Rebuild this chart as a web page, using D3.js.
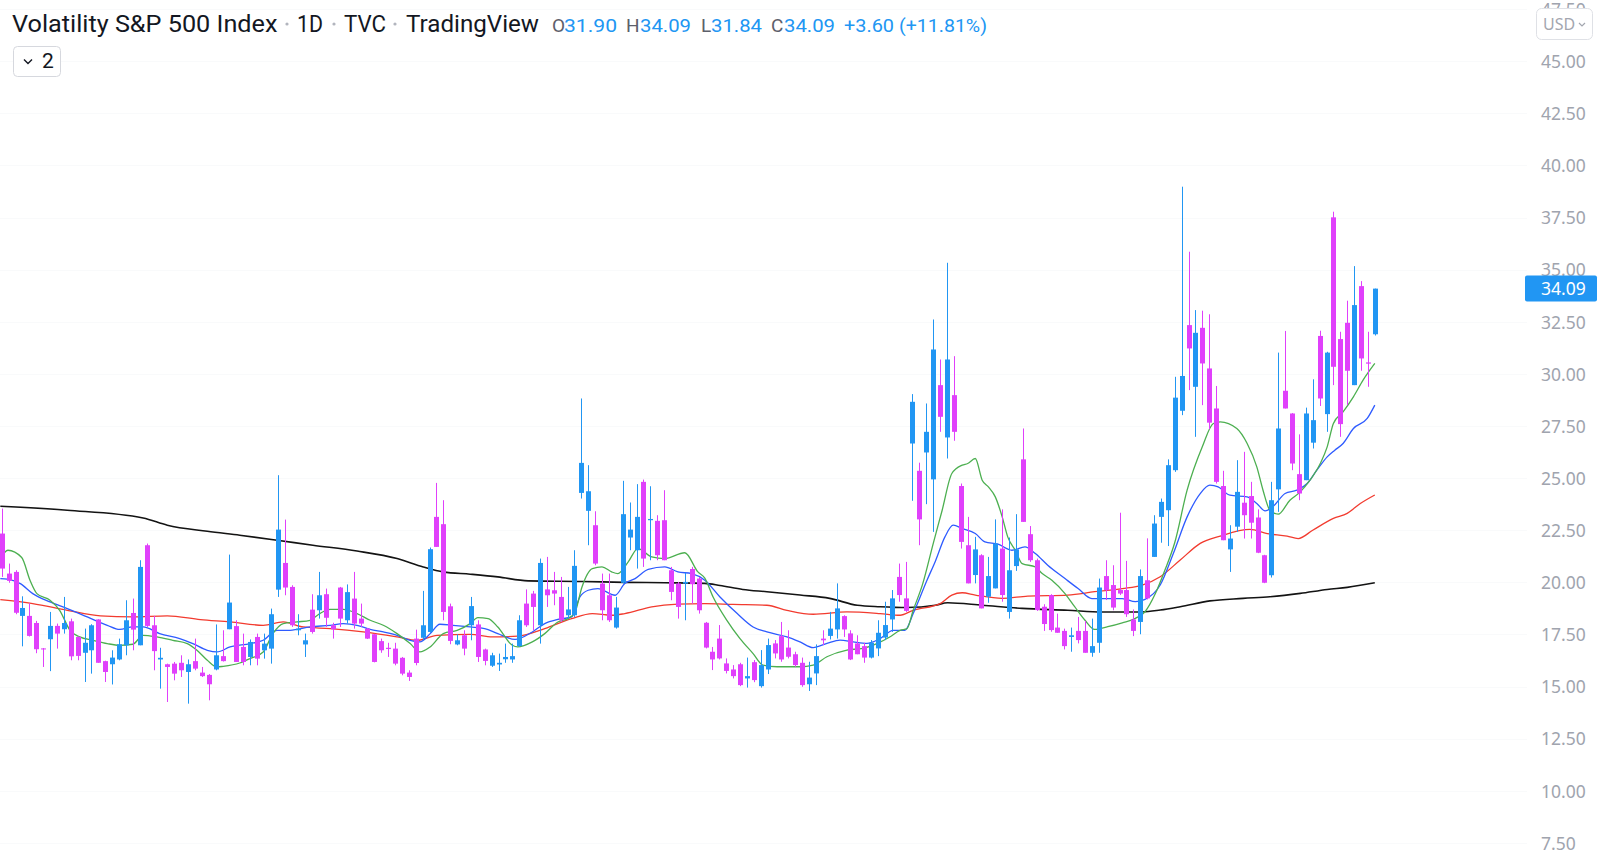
<!DOCTYPE html>
<html><head><meta charset="utf-8">
<script src="https://cdn.jsdelivr.net/npm/d3@7"></script>
<style>html,body{margin:0;padding:0;background:#fff;overflow:hidden}svg{display:block}</style>
</head><body>
<svg id="c" width="1600" height="859"></svg>
<script>
// ---------- DATA ----------
const opens = [22.34,20.42,20.5,18.39,18.39,18.05,16.83,17.27,17.91,17.75,18.13,17.38,16.62,16.74,18.22,16.22,16.07,16.3,16.98,18.53,
16.98,21.78,17.94,16.3,16.07,16.1,16.14,15.7,16.22,15.67,15.56,15.82,16.46,17.75,17.9,16.9,16.42,17.38,16.74,16.82,
19.65,20.93,19.78,17.7,17.02,18.69,18.66,19.43,17.94,19.75,18.18,19.22,18.26,17.78,17.51,17.18,16.86,16.82,16.38,15.67,
17.3,17.34,17.62,23.14,22.79,18.85,17.02,17.46,17.94,17.98,16.78,16.0,16.06,16.31,16.3,16.94,18.98,19.46,17.94,19.66,
19.62,19.3,18.42,18.42,24.29,23.43,22.74,19.94,19.38,17.83,19.98,22.15,21.54,24.82,22.98,22.95,22.98,20.58,19.94,19.94,
20.64,20.18,18.06,16.67,17.3,16.11,15.82,16.07,15.39,16.17,15.02,15.82,17.07,17.42,16.87,16.55,16.14,15.11,15.63,17.3,
17.43,17.74,18.38,17.55,17.07,16.94,16.39,16.83,17.35,18.22,20.26,19.23,26.66,25.35,26.23,24.94,29.46,26.95,28.98,24.62,
21.78,20.35,21.3,19.31,19.71,21.62,18.58,20.78,25.9,22.31,21.06,18.83,19.39,17.83,17.67,17.38,17.67,17.67,16.62,17.1,
20.3,19.87,19.63,19.63,18.22,18.1,20.1,21.22,23.14,23.46,25.38,28.23,32.34,29.38,32.21,30.26,28.34,24.62,21.58,22.67,
23.82,24.14,23.11,21.3,20.34,24.46,29.19,28.1,25.19,24.9,26.7,31.82,28.07,37.51,31.67,32.45,29.46,34.21,30.55,31.9];
const highs = [23.54,20.9,20.58,19.33,19.0,18.15,16.85,18.58,18.02,19.3,18.26,17.4,17.78,17.99,18.23,16.24,16.74,17.3,19.14,19.22,
21.06,21.86,18.39,16.86,16.1,16.18,16.5,16.3,17.3,15.94,15.6,17.98,17.7,21.33,18.18,17.54,17.26,17.54,17.54,18.74,
25.14,23.01,19.86,18.47,17.54,19.43,20.5,19.7,18.06,19.78,19.9,20.5,18.98,17.8,17.53,17.3,17.1,17.1,16.42,15.78,
17.73,19.59,21.67,24.77,23.94,18.98,17.51,17.7,19.3,18.18,16.82,16.62,16.58,17.06,17.06,18.42,19.66,19.59,21.14,21.22,
20.5,20.26,19.78,21.54,28.82,25.62,23.41,20.42,20.42,19.3,24.87,23.83,24.71,24.93,24.61,23.22,24.42,20.74,20.02,20.45,
20.74,20.26,18.1,16.9,17.95,16.35,16.03,16.14,16.39,16.27,16.75,17.3,17.23,18.1,17.7,16.67,16.39,16.19,17.02,17.7,
18.58,19.95,18.42,17.7,17.46,17.1,17.23,18.18,19.07,19.63,20.9,20.98,29.03,25.74,28.58,32.61,30.69,35.33,30.85,24.74,
23.14,22.18,21.35,21.22,23.02,23.5,22.15,23.27,27.38,22.7,21.14,18.95,19.43,18.5,17.78,17.83,18.34,18.15,18.26,20.18,
21.06,20.82,23.34,21.03,18.7,20.62,22.11,23.22,24.02,25.9,29.86,38.98,35.86,33.06,33.03,32.86,29.42,25.35,22.74,25.86,
26.26,24.82,23.5,21.32,24.82,31.02,32.06,28.12,27.1,28.38,29.74,32.07,31.06,37.78,32.02,33.51,35.17,34.45,32.02,34.09];
const lows = [20.26,19.98,18.47,16.93,17.4,16.6,15.94,15.74,16.82,17.54,16.26,16.26,15.22,15.62,16.14,15.22,15.1,16.26,16.5,16.74,
16.98,17.86,15.78,14.9,14.26,15.3,15.46,14.18,15.78,15.46,14.34,15.78,16.2,17.75,16.18,16.02,16.02,16.02,16.34,16.1,
19.3,19.38,17.86,17.46,16.42,17.54,18.26,17.86,17.3,17.86,18.02,17.78,17.86,17.28,16.16,16.62,16.42,16.02,15.54,15.27,
16.02,17.22,17.58,21.7,18.18,17.03,16.98,16.5,17.22,16.18,16.02,15.94,15.75,16.14,16.14,16.9,17.86,17.7,17.06,18.82,
18.9,18.1,18.26,18.34,24.02,21.78,20.82,18.18,18.1,17.78,19.94,21.54,20.66,20.74,21.06,21.06,21.06,19.14,18.26,18.18,
18.98,18.5,16.83,15.79,16.3,15.63,15.39,15.02,14.95,15.21,14.95,15.6,16.35,16.19,16.35,15.95,14.99,14.79,15.07,16.99,
17.26,17.3,17.38,16.27,16.55,16.14,16.35,16.46,17.23,17.62,19.07,18.58,23.91,21.78,23.75,22.42,27.22,25.94,26.79,21.62,
19.95,19.95,18.75,19.02,19.71,19.07,18.26,20.55,22.9,20.98,18.63,17.67,17.63,17.58,16.78,16.67,17.07,16.62,16.43,16.62,
19.15,18.66,19.39,18.34,17.42,17.51,19.18,21.22,21.9,21.74,25.3,28.02,29.22,26.98,28.5,27.34,24.74,22.02,20.5,22.42,
22.1,22.1,21.4,19.96,20.23,23.38,28.34,25.38,23.94,24.9,26.42,28.46,27.22,29.46,26.98,28.5,29.46,30.15,29.38,31.84];
const closes = [20.66,20.07,18.54,18.77,17.43,16.79,16.78,17.91,17.54,18.05,16.45,16.47,17.1,17.94,16.14,15.7,16.39,17.03,18.18,17.73,
20.74,17.91,16.7,16.38,15.94,15.62,15.78,16.07,15.86,15.5,15.11,16.5,16.22,19.03,16.18,16.18,17.14,16.34,17.06,18.47,
22.53,19.75,17.94,17.78,17.22,17.62,19.38,18.3,17.75,18.26,19.53,18.02,18.02,17.3,16.18,16.74,16.8,16.1,15.62,15.46,
16.13,17.94,21.59,21.7,18.58,17.19,17.22,16.82,18.86,16.42,16.23,16.5,16.14,16.42,16.46,18.18,17.94,18.82,20.93,19.38,
19.46,18.18,18.7,20.79,25.73,24.37,20.9,18.66,18.18,18.79,23.27,22.53,23.14,21.14,23.04,21.3,21.06,19.54,18.82,20.02,
19.91,18.66,16.87,16.3,16.35,15.75,15.5,15.07,15.5,15.31,16.03,16.99,16.59,16.3,16.43,16.03,15.07,15.43,16.46,17.22,
17.78,18.75,17.74,16.3,16.55,16.39,17.1,17.58,17.95,19.23,19.39,18.63,28.66,23.02,27.22,31.17,27.94,30.69,27.22,21.94,
19.95,21.58,18.75,20.3,21.86,19.39,20.58,21.58,22.9,21.06,18.67,18.0,17.71,17.58,16.94,17.46,17.23,16.62,16.94,19.75,
19.62,18.79,19.46,18.47,17.67,20.3,19.23,22.82,23.86,25.62,28.86,29.9,31.22,31.97,30.5,27.66,24.82,22.02,22.1,24.34,
23.22,22.86,21.42,19.98,23.94,27.38,28.34,25.7,24.26,28.1,27.78,28.82,31.02,30.34,27.59,30.15,33.3,30.74,30.49,34.09];

// moving averages: [bar index, value]
const maFast = [[-0.2,21.14],[0.9,21.54],[2.9,21.19],[4.1,20.1],[5.1,19.46],[7.0,19.14],[8.4,18.66],[9.9,17.7],[11.3,17.38],[13.2,17.22],
[15.3,17.06],[17.1,16.98],[19.0,17.03],[20.5,17.46],[22.5,17.38],[24.8,17.22],[26.9,17.06],[28.3,16.74],[29.8,16.26],[31.2,15.94],
[32.1,15.97],[34.5,16.13],[36.0,16.34],[37.9,16.66],[39.3,17.54],[40.8,18.02],[42.8,18.1],[44.7,18.18],[46.1,18.5],[47.6,18.7],
[49.5,18.7],[51.5,18.5],[53.4,18.18],[55.3,17.94],[57.3,17.54],[59.2,17.06],[60.6,16.66],[62.1,16.9],[64.0,17.54],[66.0,17.7],
[67.9,18.02],[69.0,18.31],[70.5,18.26],[71.9,17.86],[74.0,16.98],[74.8,16.9],[76.9,17.14],[78.7,17.54],[80.6,18.1],[82.1,18.26],
[83.1,18.58],[84.1,19.78],[85.6,20.66],[87.0,20.74],[88.4,20.5],[89.3,20.42],[90.8,20.98],[92.2,21.62],[94.2,21.22],[96.1,21.14],
[99.0,21.42],[100.9,20.5],[101.9,20.2],[103.1,19.3],[105.1,18.18],[107.0,17.3],[108.9,16.58],[110.3,16.03],[112.4,15.95],[115.7,15.95],
[117.6,16.03],[119.6,16.43],[122.5,16.75],[124.8,16.83],[126.9,17.07],[128.7,17.38],[130.2,17.7],[131.2,17.78],[132.1,18.66],[133.5,19.95],
[135.0,21.86],[136.3,23.46],[137.7,25.22],[139.2,25.62],[140.0,25.7],[141.1,25.94],[142.1,24.9],[143.0,24.58],[144.0,24.1],[145.0,23.14],
[145.8,22.18],[146.9,21.54],[147.9,20.9],[149.8,20.74],[150.8,20.42],[152.2,20.1],[154.1,19.46],[155.5,18.83],[157.0,18.18],[158.4,17.74],
[160.3,17.87],[162.4,18.06],[164.3,18.27],[165.7,18.59],[167.2,19.46],[168.6,20.6],[170.0,21.9],[171.8,24.42],[174.0,26.5],[175.6,27.62],
[176.6,27.7],[179.0,27.38],[180.5,26.66],[181.9,25.54],[182.8,24.42],[183.8,23.46],[185.0,23.27],[186.7,23.94],[188.2,24.34],[189.6,24.9],
[191.1,25.7],[192.1,26.5],[193.0,27.62],[194.4,28.18],[195.9,28.9],[197.3,29.7],[199.0,30.5]];
const maMid = [[-0.2,20.18],[0.8,20.15],[2.7,19.94],[4.5,19.46],[7.0,19.06],[9.5,18.74],[12.4,18.34],[15.3,17.94],[17.1,17.74],[19.0,17.86],
[20.5,17.86],[22.9,17.54],[25.8,17.3],[27.7,17.06],[29.8,16.74],[31.2,16.66],[33.1,16.9],[36.0,17.06],[37.9,17.22],[39.9,17.7],
[41.8,17.7],[44.7,17.86],[47.6,17.94],[49.5,18.02],[51.5,17.94],[53.4,17.74],[55.3,17.62],[57.3,17.46],[59.2,17.22],[60.6,17.14],
[62.1,17.54],[63.5,17.99],[65.4,17.94],[67.9,17.86],[70.0,17.78],[71.9,17.54],[74.4,17.26],[76.9,17.62],[78.7,18.02],[80.6,18.22],
[82.6,18.34],[83.8,19.3],[85.0,19.62],[86.4,19.7],[88.9,19.38],[90.3,19.94],[91.8,20.18],[93.7,20.62],[96.1,20.74],[98.0,20.5],
[100.0,20.42],[101.9,20.1],[104.1,19.3],[106.6,18.5],[108.9,17.86],[110.9,17.62],[113.8,17.38],[115.7,17.14],[117.6,16.87],[119.6,17.07],
[121.5,17.23],[123.4,17.14],[125.4,17.07],[127.3,17.3],[129.2,17.7],[130.9,17.7],[132.1,18.5],[134.1,20.1],[135.3,21.0],[136.7,22.18],
[137.9,22.74],[139.2,22.58],[141.1,22.34],[142.5,21.94],[144.4,21.83],[146.4,21.54],[148.3,21.7],[149.8,21.38],[151.6,20.82],[154.1,20.18],
[156.0,19.7],[158.0,19.22],[159.9,19.22],[162.4,19.22],[164.3,19.07],[165.7,19.18],[167.9,19.87],[169.8,21.38],[171.8,23.14],[173.7,24.26],
[175.1,24.66],[176.3,24.58],[178.0,24.18],[180.5,24.1],[181.9,23.78],[183.1,23.43],[184.2,23.62],[186.0,24.26],[187.7,24.42],[189.2,24.74],
[190.6,25.38],[192.1,26.02],[193.2,26.34],[194.4,26.66],[195.9,27.38],[197.9,27.86],[199.0,28.5]];
const maLong = [[-0.2,19.17],[4.5,18.98],[9.5,18.66],[14.3,18.39],[19.0,18.34],[24.0,18.39],[28.8,18.21],[33.1,18.1],[37.9,17.94],[40.8,18.1],
[43.7,17.86],[47.6,17.78],[52.4,17.62],[57.3,17.38],[60.2,17.22],[63.1,17.46],[67.9,17.5],[71.1,17.38],[74.8,17.42],[78.7,17.78],
[82.6,18.26],[85.6,18.5],[88.4,18.42],[90.3,18.5],[94.2,18.82],[98.0,18.95],[101.9,18.98],[106.0,18.94],[110.9,18.9],[113.8,18.66],
[117.6,18.47],[122.5,18.58],[127.3,18.5],[130.2,18.42],[132.1,18.66],[136.0,18.98],[137.7,19.39],[139.2,19.5],[141.1,19.39],[145.0,19.23],
[148.7,19.34],[154.5,19.39],[158.4,19.55],[162.4,19.7],[165.3,19.87],[167.9,20.27],[170.8,21.07],[173.7,21.87],[176.6,22.22],[180.9,22.54],
[183.4,22.34],[186.3,22.22],[187.9,22.1],[190.0,22.5],[193.0,23.07],[195.0,23.31],[196.9,23.78],[199.0,24.19]];
const maSlow = [[-0.2,23.65],[9.5,23.46],[20.5,23.09],[24.0,22.74],[29.8,22.45],[34.5,22.26],[39.9,22.02],[45.1,21.78],[51.5,21.5],[57.3,21.14],
[61.1,20.74],[64.0,20.5],[67.9,20.39],[71.9,20.26],[76.3,20.07],[84.1,20.04],[90.3,20.0],[96.1,19.98],[101.9,19.95],[104.1,19.85],
[107.4,19.66],[110.9,19.55],[115.7,19.39],[120.0,19.23],[124.0,18.9],[127.3,18.83],[131.2,18.79],[135.3,18.9],[137.1,19.02],[142.1,18.9],
[147.9,18.75],[154.5,18.66],[159.5,18.58],[165.3,18.58],[167.9,18.67],[170.8,18.83],[175.1,19.11],[179.9,19.23],[183.8,19.31],[188.2,19.47],
[192.1,19.66],[195.0,19.76],[199.0,19.98]];

const yTicks = [7.5,10,12.5,15,17.5,20,22.5,25,27.5,30,32.5,35,37.5,40,42.5,45,47.5];
const titleParts = ["Volatility S&P 500 Index","1D","TVC","TradingView"];
const ohlcLetters = ["O","H","L","C"];
const change = "+3.60", changePct = "(+11.81%)";
const currency = "USD";
const paneCount = "2";

// ---------- DRAW ----------
const svg = d3.select("#c");
const n = opens.length;
const x = d3.scaleLinear().domain([0, n - 1]).range([1.7, 1374.8]);
const y = d3.scaleLinear().domain([7.5, 45]).range([842.9, 61.2]);
const UP = "#2196f3", DOWN = "#e040fb";

// very faint horizontal grid
svg.append("g").selectAll("line").data(yTicks).join("line")
  .attr("x1", 0).attr("x2", 1527)
  .attr("y1", d => Math.round(y(d)) + 0.5).attr("y2", d => Math.round(y(d)) + 0.5)
  .attr("stroke", "#f9fafb").attr("stroke-width", 1);

// moving averages (under candles)
const line = d3.line().x(d => x(d[0])).y(d => y(d[1])).curve(d3.curveMonotoneX);
const mas = [
  {data: maSlow, color: "#131313", w: 1.6},
  {data: maLong, color: "#f23b2f", w: 1.3},
  {data: maMid, color: "#2e5bff", w: 1.3},
  {data: maFast, color: "#4caf50", w: 1.3}
];
svg.append("g").selectAll("path").data(mas).join("path")
  .attr("d", d => line(d.data)).attr("fill", "none")
  .attr("stroke", d => d.color).attr("stroke-width", d => d.w)
  .attr("stroke-linejoin", "round");

// candles
const candles = opens.map((o, i) => ({i, o, h: highs[i], l: lows[i], c: closes[i]}));
const cg = svg.append("g");
cg.selectAll("line").data(candles).join("line")
  .attr("x1", d => Math.round(x(d.i)) + 0.5).attr("x2", d => Math.round(x(d.i)) + 0.5)
  .attr("y1", d => y(d.h)).attr("y2", d => y(d.l))
  .attr("stroke", d => d.c >= d.o ? UP : DOWN).attr("stroke-width", 1);
cg.selectAll("rect").data(candles).join("rect")
  .attr("x", d => Math.round(x(d.i)) - 2)
  .attr("width", 5)
  .attr("y", d => y(Math.max(d.o, d.c)))
  .attr("height", d => Math.max(1, y(Math.min(d.o, d.c)) - y(Math.max(d.o, d.c))))
  .attr("fill", d => d.c >= d.o ? UP : DOWN);

// right price axis
const axis = d3.axisRight(y).tickValues(yTicks).tickFormat(d3.format(".2f")).tickSize(0).tickPadding(0);
const ag = svg.append("g").attr("transform", "translate(1541,0)").call(axis);
ag.select(".domain").remove();
ag.selectAll("text").attr("fill", "#a0a4ae").attr("font-family", "Noto Sans, sans-serif")
  .attr("font-size", 17.5).attr("dy", "0.36em");

// last price label
const last = closes[n - 1];
svg.append("rect").attr("x", 1525).attr("y", y(last) - 13).attr("width", 72).attr("height", 26)
  .attr("rx", 2).attr("fill", UP);
svg.append("text").attr("x", 1541).attr("y", y(last)).attr("dy", "0.36em")
  .attr("fill", "#fff").attr("font-family", "Noto Sans, sans-serif").attr("font-size", 17.5)
  .text(d3.format(".2f")(last));

// USD box (covers 47.50 partially)
svg.append("rect").attr("x", 1536.5).attr("y", 8.5).attr("width", 56).attr("height", 31)
  .attr("rx", 5).attr("fill", "#fff").attr("stroke", "#dfe1e6");
svg.append("text").attr("x", 1543).attr("y", 30).attr("fill", "#a3a6af")
  .attr("font-family", "Noto Sans, sans-serif").attr("font-size", 16).text(currency);
svg.append("path").attr("d", "M1579,23 l3,3 l3,-3").attr("fill", "none")
  .attr("stroke", "#a3a6af").attr("stroke-width", 1.2);

// header
const hdr = svg.append("g").attr("font-family", "Roboto, Noto Sans, sans-serif");
const titlePos = [[12, 265.5], [297, 26], [344, 42], [406, 133]];
titleParts.forEach((t, k) => {
  hdr.append("text").attr("x", titlePos[k][0]).attr("y", 31.5).attr("font-size", 23)
    .attr("fill", "#131722").attr("textLength", titlePos[k][1]).attr("lengthAdjust", "spacingAndGlyphs").text(t);
});
[287, 334, 395].forEach(cx => {
  hdr.append("circle").attr("cx", cx).attr("cy", 24).attr("r", 1.6).attr("fill", "#b2b5be");
});
const lastVals = [opens[n - 1], highs[n - 1], lows[n - 1], closes[n - 1]];
const ohlcPos = [[552, 564, 53], [626, 640, 51], [701, 711, 51], [771, 784, 51]];
ohlcLetters.forEach((L, k) => {
  hdr.append("text").attr("x", ohlcPos[k][0]).attr("y", 31.5).attr("font-size", 19)
    .attr("fill", "#5d606b").text(L);
  hdr.append("text").attr("x", ohlcPos[k][1]).attr("y", 31.5).attr("font-size", 19)
    .attr("fill", UP).attr("textLength", ohlcPos[k][2]).attr("lengthAdjust", "spacingAndGlyphs")
    .text(d3.format(".2f")(lastVals[k]));
});
hdr.append("text").attr("x", 844).attr("y", 31.5).attr("font-size", 19).attr("fill", UP)
  .attr("textLength", 50).attr("lengthAdjust", "spacingAndGlyphs").text(change);
hdr.append("text").attr("x", 899).attr("y", 31.5).attr("font-size", 19).attr("fill", UP)
  .attr("textLength", 88).attr("lengthAdjust", "spacingAndGlyphs").text(changePct);

// pane toggle button
svg.append("rect").attr("x", 13.5).attr("y", 46.5).attr("width", 47).attr("height", 30)
  .attr("rx", 4).attr("fill", "#fff").attr("stroke", "#d6d8de");
svg.append("path").attr("d", "M24,59.5 l4,4 l4,-4").attr("fill", "none")
  .attr("stroke", "#131722").attr("stroke-width", 1.4);
svg.append("text").attr("x", 42).attr("y", 68).attr("font-family", "Roboto, Noto Sans, sans-serif")
  .attr("font-size", 21).attr("fill", "#131722").text(paneCount);
</script>
</body></html>
